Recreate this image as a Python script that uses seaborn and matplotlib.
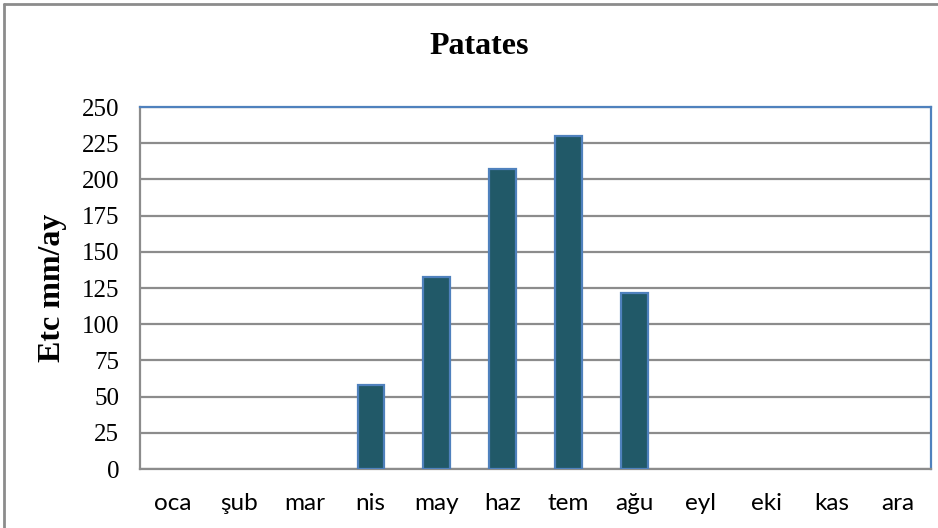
import seaborn as sns
import matplotlib.pyplot as plt
from matplotlib.lines import Line2D

# monthly crop water need for potato
months = ["oca", "şub", "mar", "nis", "may", "haz", "tem", "ağu", "eyl", "eki", "kas", "ara"]
etc_values = [0, 0, 0, 58.3, 132.3, 207.1, 229.8, 121.5, 0, 0, 0, 0]
y_ticks = [0, 25, 50, 75, 100, 125, 150, 175, 200, 225, 250]

sns.set_style("white")
serif = ["Liberation Serif", "DejaVu Serif"]

fig = plt.figure(figsize=(9.38, 5.28), dpi=100)
ax = fig.add_axes([0.1493, 0.1117, 0.8432, 0.6856])

sns.barplot(x=months, y=etc_values, color="#215968", saturation=1, width=0.4,
            edgecolor="#4F81BD", linewidth=1.6, ax=ax, zorder=3)

# zero bars should not leave an edge on the baseline
for p in ax.patches:
    if p.get_height() == 0:
        p.set_linewidth(0)

ax.set_ylim(0, 250)
ax.set_xlim(-0.5, 11.5)
ax.set_yticks(y_ticks)
ax.set_yticklabels([str(t) for t in y_ticks], fontfamily=serif, fontsize=18)
ax.set_xticks(range(len(months)))
ax.set_xticklabels(months, fontfamily=["Lato", "DejaVu Sans"], fontsize=17.5)

ax.yaxis.grid(True, color="#8c8c8c", linewidth=1.6)
ax.set_axisbelow(True)

ax.tick_params(axis="y", length=6, width=1.4, color="#8c8c8c", pad=9, labelcolor="black")
ax.tick_params(axis="x", length=0, pad=17, labelcolor="black")

for side in ["left", "bottom"]:
    ax.spines[side].set_color("#8c8c8c")
    ax.spines[side].set_linewidth(1.6)
for side in ["top", "right"]:
    ax.spines[side].set_color("#4F81BD")
    ax.spines[side].set_linewidth(1.6)
    ax.spines[side].set_visible(True)

ax.set_xlabel("")
ax.set_ylabel("")

fig.text(0.5107, 0.911, "Patates", ha="center", va="center", color="black",
         fontfamily=serif, fontweight="bold", fontsize=23)
fig.text(0.0565, 0.4545, "Etc mm/ay", ha="center", va="center", rotation=90,
         color="black", fontfamily=serif, fontweight="bold", fontsize=23)

# outer chart frame (top and left visible)
fig.add_artist(Line2D([4 / 938, 4 / 938], [0, 1 - 4 / 528], color="#8c8c8c", linewidth=2))
fig.add_artist(Line2D([4 / 938, 1], [1 - 4 / 528, 1 - 4 / 528], color="#8c8c8c", linewidth=2))

fig.savefig("out.png", dpi=100)
